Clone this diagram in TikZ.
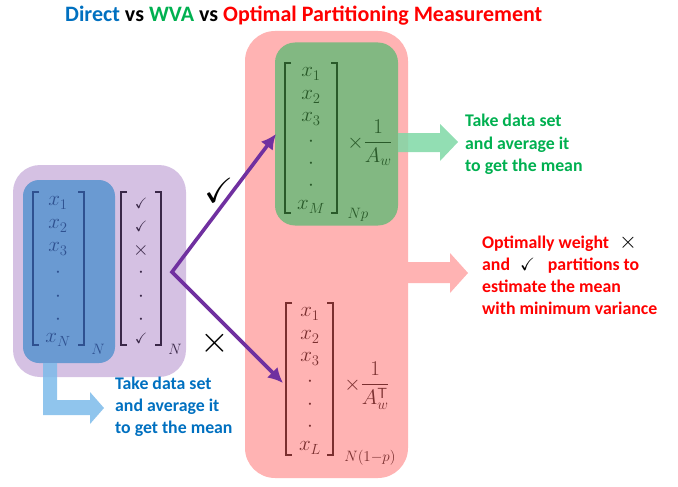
\RequirePackage{fix-cm}
\documentclass[tikz,border=0pt]{standalone}
\usepackage{amssymb}
\usepackage[no-math]{fontspec}
\setmainfont{Carlito}
\usetikzlibrary{arrows.meta}
\definecolor{pinkbox}{HTML}{FFB3B3}
\definecolor{greenbox}{HTML}{82B882}
\definecolor{purplebox}{HTML}{D5C1E3}
\definecolor{bluebox}{HTML}{6A9AD2}
\definecolor{arrowpurple}{HTML}{7030A0}
\definecolor{tblue}{HTML}{0070C0}
\definecolor{tgreen}{HTML}{00B050}
\definecolor{tred}{HTML}{FF0000}
\definecolor{mblue}{HTML}{2F5190}
\definecolor{mpurple}{HTML}{3A2848}
\definecolor{mgreen}{HTML}{2A5A2A}
\definecolor{mred}{HTML}{7A2F2F}
\definecolor{garrow}{HTML}{7FD8A6}
\definecolor{barrow}{HTML}{7DBBEA}
\begin{document}
\begin{tikzpicture}[x=1pt,y=-1pt,
  box/.style={inner sep=0pt, outer sep=0pt},
  entry/.style={inner sep=0pt, anchor=center, font=\fontsize{21}{24}\selectfont},
  sub/.style={inner sep=0pt, anchor=center, font=\fontsize{15}{17}\selectfont},
  bracket/.style={line width=1.1pt},
  txt/.style={inner sep=0pt, anchor=base west, font=\fontsize{17.8}{22}\selectfont\bfseries},
  parrow/.style={draw=arrowpurple, line width=3.6pt, {Latex[length=15pt,width=15pt]}-{Latex[length=15pt,width=15pt]}}
]
\useasboundingbox (0,0) rectangle (678,487);

% title
\node[inner sep=0pt, anchor=base west, font=\fontsize{22}{26}\selectfont\bfseries] (title) at (65,22)
  {\textcolor{tblue}{Direct} vs \textcolor{tgreen}{WVA} vs \textcolor{tred}{Optimal Partitioning Measurement}};

% boxes
\node[box, fill=pinkbox, rounded corners=30pt, minimum width=163pt, minimum height=447pt] (pink) at (326.5,254.5) {};
\node[box, fill=greenbox, rounded corners=20pt, minimum width=123pt, minimum height=183pt] (green) at (336.5,134) {};
\node[box, fill=purplebox, rounded corners=27pt, minimum width=173pt, minimum height=212pt] (purple) at (99.5,271) {};
\node[box, fill=bluebox, rounded corners=16pt, minimum width=92pt, minimum height=183pt] (blue) at (69,271.5) {};

% block arrows
\fill[barrow, opacity=0.85] (43,363) -- (57,363) -- (57,400) -- (90,400) -- (90,392) -- (104,408) -- (90,424) -- (90,415) -- (43,415) -- cycle;
\fill[garrow, opacity=0.85] (398,133) -- (440,133) -- (440,124) -- (458,142) -- (440,161) -- (440,152) -- (398,152) -- cycle;
\fill[pinkbox] (408,262) -- (450,262) -- (450,253) -- (468,273) -- (450,293) -- (450,283) -- (408,283) -- cycle;

% left data matrix
\draw[bracket, draw=mblue] (39,192) -- (33,192) -- (33,345) -- (39,345);
\draw[bracket, draw=mblue] (78,192) -- (84,192) -- (84,345) -- (78,345);
\begin{scope}[every node/.append style={text=mblue}]
\node[entry] (l1) at (58,203) {$x_1$};
\node[entry] (l2) at (58,226) {$x_2$};
\node[entry] (l3) at (58,249) {$x_3$};
\node[entry] (l4) at (58,273) {$\cdot$};
\node[entry] (l5) at (58,297) {$\cdot$};
\node[entry] (l6) at (58,320) {$\cdot$};
\node[entry] (l7) at (58,340) {$x_N$};
\node[sub] (lN) at (98,349) {$N$};
\end{scope}

% check column
\draw[bracket, draw=mpurple] (127,192) -- (121,192) -- (121,345) -- (127,345);
\draw[bracket, draw=mpurple] (155,192) -- (161,192) -- (161,345) -- (155,345);
\begin{scope}[every node/.append style={text=mpurple}]
\node[entry, font=\fontsize{15}{18}\selectfont] (c1) at (141,203) {$\checkmark$};
\node[entry, font=\fontsize{15}{18}\selectfont] (c2) at (141,226) {$\checkmark$};
\node[entry, font=\fontsize{20}{22}\selectfont] (c3) at (141,250) {$\times$};
\node[entry] (c4) at (141,273) {$\cdot$};
\node[entry] (c5) at (141,297) {$\cdot$};
\node[entry] (c6) at (141,320) {$\cdot$};
\node[entry, font=\fontsize{15}{18}\selectfont] (c7) at (141,338) {$\checkmark$};
\node[sub] (cN) at (175,349) {$N$};
\end{scope}

% green matrix
\draw[bracket, draw=mgreen] (291,63) -- (285,63) -- (285,213) -- (291,213);
\draw[bracket, draw=mgreen] (331,63) -- (337,63) -- (337,213) -- (331,213);
\begin{scope}[every node/.append style={text=mgreen}]
\node[entry] (g1) at (311,74) {$x_1$};
\node[entry] (g2) at (311,97) {$x_2$};
\node[entry] (g3) at (311,119) {$x_3$};
\node[entry] (g4) at (311,142) {$\cdot$};
\node[entry] (g5) at (311,164) {$\cdot$};
\node[entry] (g6) at (311,186) {$\cdot$};
\node[entry] (g7) at (311,207) {$x_M$};
\node[entry] (gf) at (370,143) {$\displaystyle\times\frac{1}{A_w}$};
\node[sub] (gN) at (358,215) {$Np$};
\end{scope}

% lower matrix
\draw[bracket, draw=mred] (292,303) -- (286,303) -- (286,455) -- (292,455);
\draw[bracket, draw=mred] (327,303) -- (333,303) -- (333,455) -- (327,455);
\begin{scope}[every node/.append style={text=mred}]
\node[entry] (r1) at (310,314) {$x_1$};
\node[entry] (r2) at (310,337) {$x_2$};
\node[entry] (r3) at (310,359) {$x_3$};
\node[entry] (r4) at (310,382) {$\cdot$};
\node[entry] (r5) at (310,405) {$\cdot$};
\node[entry] (r6) at (310,427) {$\cdot$};
\node[entry] (r7) at (310,448) {$x_L$};
\node[entry] (rf) at (367,386) {$\displaystyle\times\frac{1}{A_w^{\mathsf{T}}}$};
\node[sub] (rN) at (370,458) {$N(1{-}p)$};
\end{scope}

% purple arrows
\coordinate (vtx) at (172,272);
\coordinate (uptip) at (276,134);
\coordinate (lowtip) at (283,383);
\draw[parrow, line join=miter] (uptip) -- (vtx) -- (lowtip);
\node[inner sep=0pt, font=\fontsize{35}{38}\selectfont] (bigcheck) at (219,190) {$\checkmark$};
\node[inner sep=0pt, font=\fontsize{37}{40}\selectfont] (bigcross) at (215,343) {$\times$};

% green text
\node[txt, text=tgreen] (gt1) at (465,127) {Take data set};
\node[txt, text=tgreen] (gt2) at (465,149) {and average it};
\node[txt, text=tgreen] (gt3) at (465,171) {to get the mean};

% blue text
\node[txt, text=tblue] (bt1) at (115,389) {Take data set};
\node[txt, text=tblue] (bt2) at (115,411) {and average it};
\node[txt, text=tblue] (bt3) at (115,433) {to get the mean};

% red text
\node[txt, text=tred] (rt1) at (482,248) {Optimally weight\hspace{10pt}\textcolor{black}{\mdseries\fontsize{23}{22}\selectfont$\times$}};
\node[txt, text=tred] (rt2) at (482,270) {and\hspace{10pt}\textcolor{black}{\mdseries$\checkmark$}\hspace{13pt}partitions to};
\node[txt, text=tred] (rt3) at (482,292) {estimate the mean};
\node[txt, text=tred] (rt4) at (482,314) {with minimum variance};
\end{tikzpicture}
\end{document}
